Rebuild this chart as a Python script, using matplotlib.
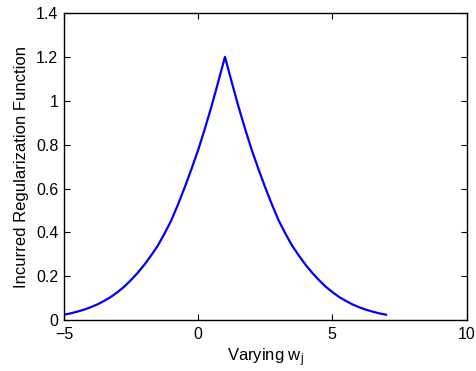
import matplotlib
matplotlib.use('Agg')
import matplotlib.pyplot as plt

plt.rcParams['font.family'] = ['Liberation Sans', 'DejaVu Sans']
plt.rcParams['mathtext.default'] = 'regular'

# Значения (шаг 0.25 по w_j)
w = [-5.0, -4.75, -4.5, -4.25, -4.0, -3.75, -3.5, -3.25, -3.0, -2.75, -2.5, -2.25,
     -2.0, -1.75, -1.5, -1.25, -1.0, -0.75, -0.5, -0.25, 0.0, 0.25, 0.5, 0.75, 1.0,
     1.25, 1.5, 1.75, 2.0, 2.25, 2.5, 2.75, 3.0, 3.25, 3.5, 3.75, 4.0,
     4.25, 4.5, 4.75, 5.0, 5.25, 5.5, 5.75, 6.0, 6.25, 6.5, 6.75, 7.0]
reg = [0.025, 0.031, 0.039, 0.048, 0.059, 0.072, 0.088, 0.106, 0.128, 0.153, 0.183, 0.216,
       0.253, 0.295, 0.340, 0.395, 0.455, 0.527, 0.605, 0.688, 0.775, 0.872, 0.975, 1.086, 1.200,
       1.086, 0.975, 0.872, 0.775, 0.688, 0.605, 0.527, 0.455, 0.395, 0.340, 0.295, 0.253,
       0.216, 0.183, 0.153, 0.128, 0.106, 0.088, 0.072, 0.059, 0.048, 0.039, 0.031, 0.025]
xticks = [-5, 0, 5, 10]
xtick_labels = ['\u22125', '0', '5', '10']
yticks = [0, 0.2, 0.4, 0.6, 0.8, 1, 1.2, 1.4]
ytick_labels = ['0', '0.2', '0.4', '0.6', '0.8', '1', '1.2', '1.4']

fig = plt.figure(figsize=(4.77, 3.71), dpi=100)
ax = fig.add_axes([0.134, 0.137, 0.844, 0.828])
ax.plot(w, reg, color='#0000ff', linewidth=1.6)

ax.set_xlim(-5, 10)
ax.set_ylim(0, 1.4)
ax.set_xticks(xticks)
ax.set_xticklabels(xtick_labels)
ax.set_yticks(yticks)
ax.set_yticklabels(ytick_labels)
ax.tick_params(direction='in', top=True, right=True, length=4, width=0.8, labelsize=11.5)
ax.tick_params(axis='x', pad=5)
ax.tick_params(axis='y', pad=4)
for s in ax.spines.values():
    s.set_linewidth(1.0)

ax.set_xlabel('Varying w$_j$', fontsize=12, labelpad=3)
ax.set_ylabel('Incurred Regularization Function', fontsize=12, labelpad=5)

fig.savefig('out.png', dpi=100)
